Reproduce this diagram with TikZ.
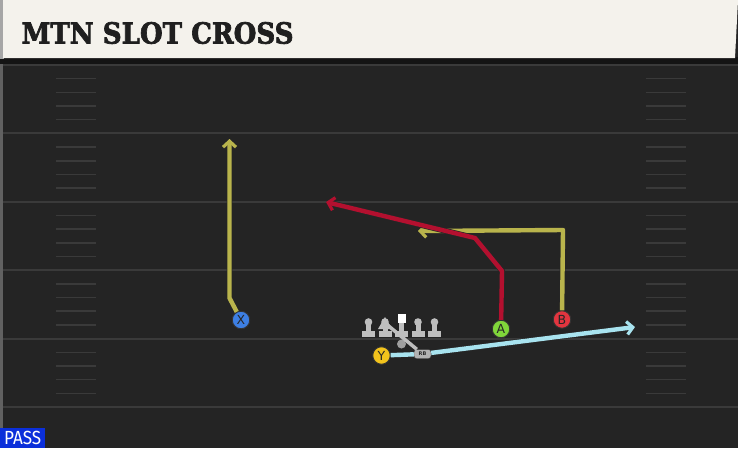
\documentclass[tikz,border=0pt]{standalone}
\usepackage{fontspec}
\setmainfont{DejaVu Sans}
\newfontfamily\titlefont{DejaVu Serif}[FakeBold=2.5]
\newfontfamily\tagfont{Fira Sans}
\usetikzlibrary{arrows.meta}

\definecolor{field}{HTML}{242424}
\definecolor{yardline}{HTML}{3A3A3A}
\definecolor{header}{HTML}{F4F2EC}
\definecolor{routeyellow}{HTML}{B9B44C}
\definecolor{routered}{HTML}{B3102F}
\definecolor{routecyan}{HTML}{A8E3EF}
\definecolor{xblue}{HTML}{3D7FE3}
\definecolor{yyellow}{HTML}{F2C31C}
\definecolor{agreen}{HTML}{80D63A}
\definecolor{bred}{HTML}{E2353F}
\definecolor{olgrey}{HTML}{BEBEBE}
\definecolor{passblue}{HTML}{0B2FDA}

\tikzset{
  player/.style={draw=black!80, line width=0.9pt, circle, minimum size=17.5pt, inner sep=0pt, text=black!85, font=\fontsize{12.5}{12.5}\selectfont},
  route/.style={line width=4.4pt, line join=round, preaction={draw, black!85, line width=5.8pt}, -{Straight Barb[length=6pt, width=13pt, line width=3.2pt]}},
  hashmark/.style={yardline, line width=1.5pt},
}

\begin{document}
\begin{tikzpicture}[x=1pt, y=-1pt]

\useasboundingbox (0,0) rectangle (738,448);
\fill [field] (0,0) rectangle (738,448);
\fill [black!92] (0,57) rectangle (738,64);
\fill [gray!70] (0,0) rectangle (4,59);
\fill [header] (3,0) -- (738,0) -- (735,58) -- (3,58) -- cycle;
\fill [yardline!80] (0,64) rectangle (2.5,448);

\foreach \k in {0,...,5}
  \draw [yardline, line width=2pt] (3,65+68.4*\k) -- (738,65+68.4*\k);
\foreach \k in {0,...,4}
  \foreach \j in {1,...,4} {
    \draw [hashmark] (56,65+68.4*\k+13.68*\j) -- (96,65+68.4*\k+13.68*\j);
    \draw [hashmark] (646,65+68.4*\k+13.68*\j) -- (686,65+68.4*\k+13.68*\j);
  }

\node [anchor=west, text=black!88] (title) at (18,33) {\scalebox{0.9}[1]{\titlefont\bfseries\fontsize{29}{29}\selectfont MTN SLOT CROSS}};
\node [anchor=south west, fill=passblue, text=white, minimum width=45pt, minimum height=20pt, inner sep=0pt, font=\tagfont\fontsize{19}{19}\selectfont] (pass) at (0,448) {\scalebox{0.9}[1]{PASS}};

\foreach \xx in {368.5, 385, 401.5, 418, 434.5} {
  \fill [olgrey] (\xx-6.5,331) rectangle (\xx+6.5,336.5);
  \fill [olgrey] (\xx-2.5,323) rectangle (\xx+2.5,332);
}
\foreach \xx in {368.5, 385, 418, 434.5}
  \fill [olgrey] (\xx,322) circle (3.8pt);
\fill [white] (397.5,314) rectangle (405.5,322.5);
\coordinate (guard) at (385,323);

\node [player, fill=xblue  ] (X)  at (241,320) {X};
\node [player, fill=yyellow] (Y)  at (381.5,355.5) {Y};
\node [player, fill=agreen ] (A)  at (501,329) {A};
\node [player, fill=bred   ] (B)  at (562,319.5) {B};
\node [circle, fill=gray!75, inner sep=0pt, minimum size=9pt] (qb) at (401.5,344) {};
\node [draw=black!80, fill=gray!60, rounded corners=2.5pt, minimum width=17pt, minimum height=9pt, inner sep=0pt, text=black!85, font=\bfseries\fontsize{5}{5}\selectfont] (RB) at (422.5,354) {RB};

\coordinate (xbend) at (229.5,298);
\coordinate (xend)  at (229.5,139);
\coordinate (abend1) at (502,271);
\coordinate (abend2) at (475,238);
\coordinate (aend)  at (326,202);
\coordinate (bbend) at (563,230);
\coordinate (bend)  at (418,231);
\coordinate (yend)  at (635,327);

\draw [olgrey, line width=3.5pt] (guard) -- (RB);
\fill [olgrey] (378,329) -- (385,317) -- (392,329) -- cycle;

\draw [route, routeyellow] (X) -- (xbend) -- (xend);
\draw [route, routeyellow] (B) -- (bbend) -- (bend);
\draw [route, routered] (A) -- (abend1) -- (abend2) -- (aend);
\draw [route, routecyan] (Y) -- (RB) -- (yend);

\end{tikzpicture}
\end{document}
